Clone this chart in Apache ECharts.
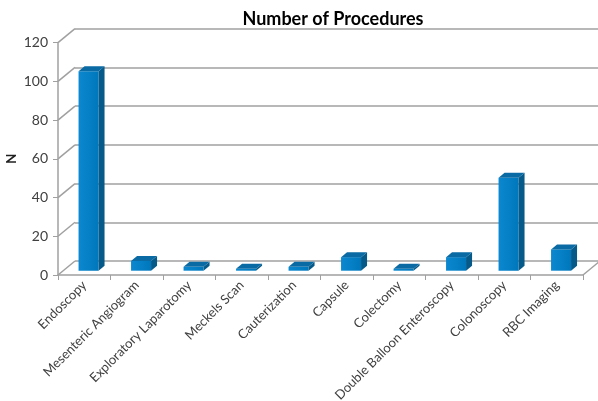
<!DOCTYPE html>
<html>
<head>
<meta charset="UTF-8">
<title>Number of Procedures</title>
<script type="text/javascript" src="https://cdn.jsdelivr.net/npm/echarts@6/dist/echarts.min.js"></script>
<style type="text/css">
body {
	margin: 0;
	background-color: #FFFFFF
}
</style>
</head>
<body>
	<div id="chart" style="width: 598px; height: 401px"></div>
</body>
<script type="text/javascript">
	var categories = [ 'Endoscopy', 'Mesenteric Angiogram', 'Exploratory Laparotomy',
			'Meckels Scan', 'Cauterization', 'Capsule', 'Colectomy',
			'Double Balloon Enteroscopy', 'Colonoscopy', 'RBC Imaging' ];
	var counts = [ 103, 5, 2, 1, 2, 7, 1, 7, 48, 11 ];
	var yTicks = [ 0, 20, 40, 60, 80, 100, 120 ];

	// depth of the 3d box (back wall offset)
	var DX = 17, DY = -14;
	var FONT = 'Lato, "Open Sans", sans-serif';

	function renderBar(params, api) {
		var i = api.value(0), v = api.value(1);
		var base = api.coord([ i, 0 ]);
		var top = api.coord([ i, v ]);
		var w = 20, sx = 6, sy = -5;
		var x0 = base[0] - 5.7, x1 = x0 + w;
		var yb = base[1] - 4.3, yt = top[1] - 4.3;
		return {
			type : 'group',
			children : [ {
				type : 'rect',
				shape : { x : x0, y : yt, width : w, height : yb - yt },
				style : {
					fill : new echarts.graphic.LinearGradient(0, 0, 1, 0, [
						{ offset : 0, color : '#0b88d0' },
						{ offset : 1, color : '#0077bc' } ])
				}
			}, {
				type : 'polygon',
				shape : { points : [ [ x1, yb ], [ x1 + sx, yb + sy ], [ x1 + sx, yt + sy ], [ x1, yt ] ] },
				style : { fill : '#065a8a' }
			}, {
				type : 'polygon',
				shape : { points : [ [ x0, yt ], [ x0 + sx, yt + sy ], [ x1 + sx, yt + sy ], [ x1, yt ] ] },
				style : { fill : '#0a6aa4' }
			} ]
		};
	}

	// left side wall diagonals + right floor edge
	function renderWall(params, api) {
		var v = api.value(1);
		var bw = api.size([ 1, 0 ])[0];
		var p = api.coord([ 0, v ]);
		var x0 = p[0] - bw / 2;
		var lines = [ {
			type : 'line',
			shape : { x1 : x0, y1 : p[1], x2 : x0 + DX, y2 : p[1] + DY },
			style : { stroke : '#a0a0a0', lineWidth : 1.5 }
		} ];
		if (v === 0) {
			var q = api.coord([ categories.length - 1, 0 ]);
			var xr = q[0] + bw / 2;
			lines.push({
				type : 'line',
				shape : { x1 : xr, y1 : q[1], x2 : xr + DX, y2 : q[1] + DY },
				style : { stroke : '#a0a0a0', lineWidth : 1.5 }
			});
		}
		return { type : 'group', children : lines };
	}

	var myChart = echarts.init(document.getElementById('chart'));
	var option = {
		animation : false,
		title : {
			text : 'Number of Procedures',
			left : 328,
			textAlign : 'center',
			top : 5,
			textStyle : { fontFamily : FONT, fontSize : 18, fontWeight : 'bold', color : '#000' }
		},
		grid : [ {
			left : 58, right : 15, top : 42.7, bottom : 126,
			outerBoundsMode : 'none', containLabel : false
		}, {
			left : 58 + DX, right : 0, top : 42.7 + DY, bottom : 126 - DY,
			outerBoundsMode : 'none', containLabel : false
		} ],
		xAxis : [ {
			type : 'category',
			gridIndex : 0,
			data : categories,
			axisLine : { lineStyle : { color : '#a0a0a0', width : 1.5 } },
			axisTick : { show : true, length : 5, lineStyle : { color : '#a0a0a0' } },
			axisLabel : {
				rotate : 45, interval : 0, margin : 8,
				fontFamily : FONT, fontSize : 13, color : '#404040'
			}
		}, {
			type : 'category',
			gridIndex : 1,
			data : categories,
			show : false
		} ],
		yAxis : [ {
			type : 'value',
			gridIndex : 0,
			min : 0, max : 120, interval : 20,
			name : 'N',
			nameLocation : 'middle',
			nameGap : 40,
			nameMoveOverlap : false,
			nameTextStyle : { fontFamily : FONT, fontSize : 13, color : '#202020', fontWeight : 'bold' },
			axisLine : { show : true, lineStyle : { color : '#a0a0a0', width : 1.5 } },
			axisTick : { show : true, length : 5, lineStyle : { color : '#a0a0a0' } },
			splitLine : { show : false },
			axisLabel : {
				margin : 10, fontFamily : FONT, fontSize : 14, color : '#404040',
				formatter : function(v) { return yTicks.indexOf(v) >= 0 ? v : ''; }
			}
		}, {
			type : 'value',
			gridIndex : 1,
			min : 0, max : 120, interval : 20,
			axisLine : { show : false },
			axisTick : { show : false },
			axisLabel : { show : false },
			splitLine : { show : true, lineStyle : { color : '#a0a0a0', width : 1.5 } }
		} ],
		series : [ {
			type : 'custom',
			xAxisIndex : 0,
			yAxisIndex : 0,
			renderItem : renderWall,
			data : yTicks.map(function(t) { return [ 0, t ]; }),
			z : 1
		}, {
			type : 'custom',
			xAxisIndex : 0,
			yAxisIndex : 0,
			renderItem : renderBar,
			data : counts.map(function(c, i) { return [ i, c ]; }),
			z : 5
		} ]
	};
	myChart.setOption(option);
</script>
</html>
